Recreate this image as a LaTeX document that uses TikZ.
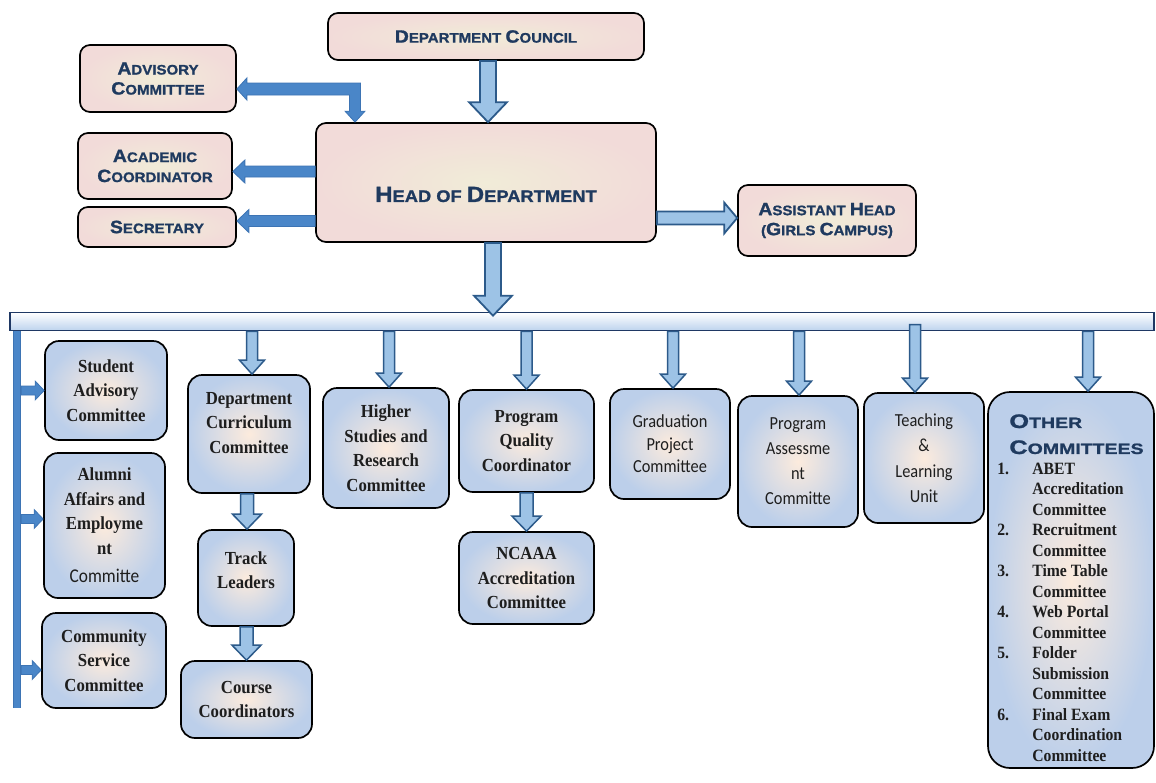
\documentclass[tikz,border=0pt]{standalone}
\usepackage{fontspec}
\setmainfont[FakeStretch=0.91]{Liberation Serif}
\newfontfamily\calib[FakeStretch=0.89]{Carlito}
\newfontfamily\copper[FakeStretch=1.09,FakeBold=1.2]{Liberation Sans}
\newfontfamily\copperW[FakeStretch=1.3,FakeBold=1.2]{Liberation Sans}
\usetikzlibrary{calc}

\definecolor{pinkout}{HTML}{F2DBD9}
\definecolor{pinkin}{HTML}{F1ECD8}
\definecolor{blueout}{HTML}{BCCFEA}
\definecolor{bluein}{HTML}{FCEBDD}
\definecolor{capsblue}{HTML}{1F3A5F}
\definecolor{ink}{HTML}{1E1E1E}
\definecolor{arrline}{HTML}{2C5A8A}
\definecolor{arrfill}{HTML}{9DC3E6}
\definecolor{solidblue}{HTML}{4A86C8}
\definecolor{solidedge}{HTML}{3D74B4}
\definecolor{barline}{HTML}{1F3864}
\definecolor{barblue}{HTML}{BDD3EE}

% large initial capital for the small-caps titles
\newcommand\cpbig{17.8}
\newcommand\Bc[1]{{\fontsize{\cpbig}{\cpbig}\selectfont#1}}
% numbered entries of the committee list
\newcommand\itm[1]{\makebox[35pt][l]{#1}}
\newcommand\ind{\hspace*{35pt}}
\newcommand\ochead[2]{{\copperW\bfseries\color{capsblue}\fontsize{15}{15}\selectfont\hspace*{12pt}{\fontsize{19.5}{19.5}\selectfont#1}#2}}

\begin{document}
\begin{tikzpicture}[x=1pt,y=-1pt,
  sz/.style 2 args={minimum width=#1pt,minimum height=#2pt},
  topbox/.style={draw=black,line width=1.7pt,rounded corners=10pt,inner color=pinkin,outer color=pinkout,
    text=capsblue,align=center,inner sep=0pt,font=\copper\bfseries\fontsize{13.8}{20}\selectfont},
  hodtext/.style={text=capsblue,inner sep=0pt,font=\copper\bfseries\fontsize{16.8}{20}\selectfont\def\cpbig{22}},
  lowbox/.style={draw=black,line width=1.7pt,rounded corners=14pt,inner color=bluein,outer color=blueout,
    text=ink,align=center,inner sep=0pt,font=\bfseries\fontsize{18.4}{24.5}\selectfont},
  lowtext/.style={text=ink,align=center,inner sep=0pt,font=\bfseries\fontsize{18.4}{24.5}\selectfont},
  calibbox/.style={lowbox,font=\calib\fontsize{18.4}{25}\selectfont},
  blockarrow/.style n args={3}{to path={
    (\tikztostart) coordinate (bkS) (\tikztotarget) coordinate (bkT)
    ($(bkT)!#3!(bkS)$) coordinate (bkH)
    ($(bkS)!#1!90:(bkT)$) -- ($(bkH)!#1!90:(bkT)$) -- ($(bkH)!#2!90:(bkT)$) -- (bkT)
    -- ($(bkH)!#2!-90:(bkT)$) -- ($(bkH)!#1!-90:(bkT)$) -- ($(bkS)!#1!-90:(bkT)$) -- cycle}},
  lightarrow/.style={draw=arrline,fill=arrfill,line width=1.8pt,line join=miter},
  solidarrow/.style={draw=solidedge,fill=solidblue,line width=0.8pt,line join=miter},
  bigarrow/.style={lightarrow,blockarrow={8pt}{19pt}{20pt}},
  midarrow/.style={lightarrow,blockarrow={6.5pt}{15.5pt}{13pt}},
  lowarrow/.style={lightarrow,line width=1.5pt,blockarrow={5.5pt}{12.5pt}{14pt}},
  subarrow/.style={lightarrow,line width=1.5pt,blockarrow={6.5pt}{14.5pt}{15pt}},
  sidearrow/.style={solidarrow,blockarrow={5.5pt}{11.5pt}{12pt}},
  sparrow/.style={solidarrow,blockarrow={4.5pt}{9.5pt}{9pt}}
]
\fill[white] (0,0) rectangle (1156,782);
\useasboundingbox (0,0) rectangle (1156,782);

% ---------- upper level ----------
\node[topbox,sz={316}{47}] (dc) at (486,36.5) {\Bc{D}EPARTMENT \Bc{C}OUNCIL};
\node[topbox,sz={156}{67}] (adv) at (158,78.5) {\Bc{A}DVISORY\\\Bc{C}OMMITTEE};
\node[topbox,sz={340}{119}] (hod) at (486,182.5) {};
\node[hodtext] (hodT) at ([yshift=-12pt]hod.center) {\Bc{H}EAD OF \Bc{D}EPARTMENT};
\node[topbox,sz={154}{66}] (acad) at (155,166) {\Bc{A}CADEMIC\\\Bc{C}OORDINATOR};
\node[topbox,sz={158}{40}] (sec) at (157,227) {\Bc{S}ECRETARY};
\node[topbox,sz={178}{71}] (ah) at (827,220.5) {\Bc{A}SSISTANT \Bc{H}EAD\\(\Bc{G}IRLS \Bc{C}AMPUS)};

% ---------- distribution bar ----------
\node[draw=barline,line width=1.6pt,top color=white,bottom color=barblue,sz={1144}{18},inner sep=0pt] (bar) at (582,321.5) {};

% ---------- committees ----------
\node[lowbox,sz={122}{99}] (sac) at (106,390.5) {Student\\Advisory\\Committee};
\node[lowbox,sz={121}{145}] (alu) at (104.5,525.5) {Alumni\\Affairs and\\Employme\\nt\\[4pt]{\calib\mdseries\fontsize{19.5}{24}\selectfont Committe}};
\node[lowbox,sz={124}{95}] (csc) at (104,660.5) {Community\\Service\\Committee};
\node[lowbox,sz={122}{118}] (dcc) at (249,434) {};
\node[lowtext] (dccT) at ([yshift=11pt]dcc.center) {Department\\Curriculum\\Committee};
\node[lowbox,sz={96}{96}] (tl) at (246,578) {};
\node[lowtext] (tlT) at ([yshift=8pt]tl.center) {Track\\Leaders};
\node[lowbox,sz={131}{77}] (cc) at (246.5,699.5) {Course\\Coordinators};
\node[lowbox,sz={126}{120}] (hsr) at (386,448) {Higher\\Studies and\\Research\\Committee};
\node[lowbox,sz={135}{102}] (pqc) at (526.5,441) {Program\\Quality\\Coordinator};
\node[lowbox,sz={135}{92}] (nca) at (526.5,578) {NCAAA\\Accreditation\\Committee};
\node[calibbox,sz={120}{110},font=\calib\fontsize{18.4}{22.5}\selectfont] (gpc) at (670,444) {Graduation\\Project\\Committee};
\node[calibbox,sz={120}{131}] (pac) at (798,461.5) {Program\\Assessme\\nt\\Committe};
\node[calibbox,sz={120}{130},font=\calib\fontsize{18.4}{25.5}\selectfont] (tlu) at (924,458) {Teaching\\\&\\Learning\\Unit};
\node[lowbox,sz={166}{376},rounded corners=22pt] (oc) at (1071,580) {};
\node[lowtext,anchor=north west,align=left,font=\bfseries\fontsize{17.25}{20.5}\selectfont] (ocT)
  at ([xshift=10pt,yshift=-23pt]oc.north west) {%
  \ochead{O}{THER}\\[5.5pt]
  \ochead{C}{OMMITTEES}\\
  \itm{1.}ABET\\
  \ind Accreditation\\
  \ind Committee\\
  \itm{2.}Recruitment\\
  \ind Committee\\
  \itm{3.}Time Table\\
  \ind Committee\\
  \itm{4.}Web Portal\\
  \ind Committee\\
  \itm{5.}Folder\\
  \ind Submission\\
  \ind Committee\\
  \itm{6.}Final Exam\\
  \ind Coordination\\
  \ind Committee};

% ---------- connectors of the upper level ----------
\draw[bigarrow] ([xshift=2pt]dc.south) to ([xshift=2pt]hod.north);
\draw[bigarrow] ([xshift=7pt]hod.south) to ($(hod.south |- bar.north)+(7pt,-4pt)$);
\coordinate (ahIn) at ([yshift=-35.5pt]hod.east);
\draw[midarrow] (ahIn) to (ahIn -| ah.west);
\coordinate (acIn) at ([yshift=-5.5pt]acad.east);
\draw[sidearrow] (acIn -| hod.west) to (acIn);
\coordinate (seIn) at ([yshift=6pt]sec.east);
\draw[sidearrow] (seIn -| hod.west) to (seIn);
% two-way elbow between the advisory committee and the head
\coordinate (advIn) at ([yshift=-10.5pt]adv.east);
\coordinate (hodIn) at ([xshift=-131pt]hod.north);
\draw[solidarrow] let \p1=(advIn), \p2=(hodIn) in
  (\p1) -- (\x1+10pt,\y1+11pt) -- (\x1+10pt,\y1+6pt) -- (\x2+5.5pt,\y1+6pt)
  -- (\x2+5.5pt,\y2+11pt) -- (\x2+10pt,\y2+11pt) -- (\p2) -- (\x2-10pt,\y2+11pt)
  -- (\x2-5.5pt,\y2+11pt) -- (\x2-5.5pt,\y1-6pt) -- (\x1+10pt,\y1-6pt) -- (\x1+10pt,\y1-11pt) -- cycle;

% ---------- connectors from the bar ----------
\draw[lowarrow] ($(dcc.north |- bar.south)+(3pt,0)$) to ([xshift=3pt]dcc.north);
\draw[lowarrow] ($(hsr.north |- bar.south)+(3pt,0)$) to ([xshift=3pt]hsr.north);
\draw[lowarrow] (pqc.north |- bar.south) to (pqc.north);
\draw[lowarrow] ($(gpc.north |- bar.south)+(3pt,0)$) to ([xshift=3pt]gpc.north);
\draw[lowarrow] ($(pac.north |- bar.south)+(1pt,0)$) to ([xshift=1pt]pac.north);
\draw[lowarrow] ($(tlu.north |- bar.center)+(-9pt,-3pt)$) to ([xshift=-9pt]tlu.north);
\draw[lowarrow] ($(oc.north |- bar.south)+(17pt,0)$) to ([xshift=17pt]oc.north);

\draw[subarrow] ($(tl.north |- dcc.south)+(1pt,0)$) to ([xshift=1pt]tl.north);
\draw[subarrow] (cc.north |- tl.south) to (cc.north);
\draw[subarrow] (nca.north |- pqc.south) to (nca.north);

% ---------- left spine ----------
\coordinate (spT) at ($(bar.south west)+(8pt,0pt)$);
\coordinate (spB) at ($(spT)+(0,377)$);
\draw[draw=solidedge,line width=0.8pt,double=solidblue,double distance=6.5pt] (spT) -- (spB);
\coordinate (a1) at (sac.west);
\coordinate (a2) at ([yshift=6.5pt]alu.west);
\coordinate (a3) at ([yshift=-9.5pt]csc.west);
\draw[sparrow] ($(spT |- a1)+(4pt,0)$) to (a1);
\draw[sparrow] ($(spT |- a2)+(4pt,0)$) to (a2);
\draw[sparrow] ($(spT |- a3)+(4pt,0)$) to (a3);
\end{tikzpicture}
\end{document}
